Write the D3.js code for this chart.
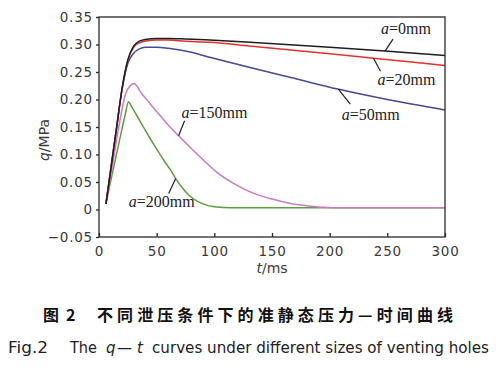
<!DOCTYPE html>
<html><head><meta charset="utf-8">
<script src="https://cdn.jsdelivr.net/npm/d3@7"></script>
<style>body{margin:0;background:#fff}svg{display:block}</style>
</head><body><svg id="c" width="500" height="366"></svg>
<script>
// ---- data ----
const xTicks = [0, 50, 100, 150, 200, 250, 300];
const yTicks = [-0.05, 0, 0.05, 0.10, 0.15, 0.20, 0.25, 0.30, 0.35];
const yTickLabels = ["\u22120.05", "0", "0.05", "0.10", "0.15", "0.20", "0.25", "0.30", "0.35"];
const seriesNames = ["a=0mm", "a=20mm", "a=50mm", "a=150mm", "a=200mm"];

const tBlack = [6,10,15,20,25,30,35,40,50,60,75,96,131,200,248,300];
const qBlack = [0.01,0.07,0.145,0.22,0.272,0.297,0.306,0.309,0.311,0.311,0.310,0.308,0.304,0.295,0.288,0.280];
const tRed = [6,10,15,20,25,30,35,40,50,60,75,96,131,200,238,300];
const qRed = [0.01,0.07,0.145,0.22,0.271,0.295,0.303,0.306,0.308,0.308,0.306,0.304,0.297,0.283,0.275,0.262];
const tBlue = [6,10,15,20,25,30,35,40,50,60,75,96,131,170,207,250,300];
const qBlue = [0.01,0.07,0.145,0.218,0.266,0.284,0.292,0.295,0.295,0.293,0.288,0.277,0.258,0.238,0.219,0.200,0.181];
const tPink = [6,12,18,23,27,30.5,33,36,40,44,50,59,70,80,88,102,117,131,150,166,180,195,210,300];
const qPink = [0.01,0.085,0.16,0.21,0.225,0.229,0.224,0.214,0.203,0.193,0.178,0.156,0.132,0.111,0.095,0.068,0.047,0.032,0.019,0.011,0.007,0.004,0.003,0.003];
const tGreen = [6,12,18,23,25.5,28,33,38.5,44,50,56,62,66,72,78,88,100,115,300];
const qGreen = [0.01,0.07,0.128,0.175,0.196,0.188,0.170,0.150,0.130,0.110,0.090,0.072,0.058,0.040,0.026,0.012,0.005,0.003,0.003];

// ---- layout ----
const svg = d3.select("#c");
const L = 99, R = 445, T = 17, B = 237;
const x = d3.scaleLinear().domain([0, 300]).range([L, R]);
const y = d3.scaleLinear().domain([-0.05, 0.35]).range([B, T]);

const series = [
  {name: seriesNames[4], t: tGreen, q: qGreen, color: "#5f9e3e"},
  {name: seriesNames[3], t: tPink, q: qPink, color: "#c97cc4"},
  {name: seriesNames[2], t: tBlue, q: qBlue, color: "#45499a"},
  {name: seriesNames[1], t: tRed, q: qRed, color: "#e5312c"},
  {name: seriesNames[0], t: tBlack, q: qBlack, color: "#1e1e1e"}
];

const line = d3.line().x(d => x(d[0])).y(d => y(d[1])).curve(d3.curveMonotoneX);
series.forEach(s => {
  svg.append("path")
    .datum(s.t.map((t, i) => [t, s.q[i]]))
    .attr("d", line).attr("fill", "none")
    .attr("stroke", s.color).attr("stroke-width", 1.5);
});

// frame
svg.append("rect").attr("x", L).attr("y", T).attr("width", R - L).attr("height", B - T)
  .attr("fill", "none").attr("stroke", "#2a2a2a").attr("stroke-width", 1.3);

// axes
const tickFont = "DejaVu Sans";
const xAxis = svg.append("g").attr("transform", `translate(0,${B})`)
  .call(d3.axisBottom(x).tickValues(xTicks).tickSize(-4).tickPadding(9).tickFormat(d3.format("d")));
const yAxis = svg.append("g").attr("transform", `translate(${L},0)`)
  .call(d3.axisLeft(y).tickValues(yTicks).tickSize(3).tickPadding(3).tickFormat((d, i) => yTickLabels[i]));
[xAxis, yAxis].forEach(g => {
  g.select(".domain").remove();
  g.selectAll("line").attr("stroke", "#2a2a2a").attr("stroke-width", 1.3);
  g.selectAll("text").attr("font-family", tickFont).attr("font-size", 13.5)
    .attr("fill", "#3a3a3a").style("letter-spacing", "0.8px");
});

// axis titles
const xt = svg.append("text").attr("x", (L + R) / 2).attr("y", 273).attr("text-anchor", "middle")
  .attr("font-family", tickFont).attr("font-size", 14).attr("fill", "#3a3a3a");
xt.append("tspan").attr("font-style", "italic").text("t");
xt.append("tspan").text("/ms");
const yt = svg.append("text").attr("transform", `translate(49,${140}) rotate(-90)`).attr("text-anchor", "middle")
  .attr("font-family", tickFont).attr("font-size", 14).attr("fill", "#3a3a3a");
yt.append("tspan").attr("font-style", "italic").text("q");
yt.append("tspan").text("/MPa");

// annotations: anchor on curve at time t, line offset, label offset (px)
function interp(s, t) {
  for (let i = 1; i < s.t.length; i++) {
    if (t <= s.t[i]) {
      const f = (t - s.t[i - 1]) / (s.t[i] - s.t[i - 1]);
      return s.q[i - 1] + f * (s.q[i] - s.q[i - 1]);
    }
  }
  return s.q[s.q.length - 1];
}
const notes = [
  {s: 4, t: 248, lx: 8, ly: -12, tx: -4, ty: -17},
  {s: 3, t: 238, lx: 7, ly: 13, tx: 4, ty: 27},
  {s: 2, t: 207.5, lx: 12, ly: 15, tx: 3.5, ty: 31},
  {s: 1, t: 69, lx: 6, ly: -15, tx: 3, ty: -18},
  {s: 0, t: 66.5, lx: -7, ly: 15, tx: -47, ty: 29}
];
notes.forEach(n => {
  const s = series[n.s];
  const ax = x(n.t), ay = y(interp(s, n.t));
  svg.append("line").attr("x1", ax).attr("y1", ay).attr("x2", ax + n.lx).attr("y2", ay + n.ly)
    .attr("stroke", "#1e1e1e").attr("stroke-width", 1.2);
  const tx = svg.append("text").attr("x", ax + n.tx).attr("y", ay + n.ty)
    .attr("font-family", "Liberation Serif").attr("font-size", 16).attr("fill", "#222");
  tx.append("tspan").attr("font-style", "italic").text(s.name.slice(0, 1));
  tx.append("tspan").text(s.name.slice(1));
});

// captions
const cn = svg.append("g").attr("font-family", "Noto Sans CJK SC").attr("font-weight", "bold")
  .attr("font-size", 16).attr("fill", "#111");
cn.append("text").attr("x", 43).attr("y", 321).text("图");
cn.append("text").attr("x", 66).attr("y", 321).text("2");
cn.append("text").attr("x", 97).attr("y", 321)
  .attr("textLength", 356).attr("lengthAdjust", "spacing").text("不同泄压条件下的准静态压力—时间曲线");
const capFont = "DejaVu Sans";
const cap = svg.append("g").attr("font-family", capFont).attr("font-size", 15).attr("fill", "#222");
cap.append("text").attr("x", 8).attr("y", 353).attr("textLength", 40).attr("lengthAdjust", "spacingAndGlyphs").text("Fig.2");
cap.append("text").attr("x", 70).attr("y", 353).attr("textLength", 27).attr("lengthAdjust", "spacingAndGlyphs").text("The");
cap.append("text").attr("x", 106).attr("y", 353).attr("font-style", "italic").text("q");
cap.append("text").attr("x", 117).attr("y", 353).text("—");
cap.append("text").attr("x", 137).attr("y", 353).attr("font-style", "italic").text("t");
cap.append("text").attr("x", 152).attr("y", 353).attr("textLength", 337).attr("lengthAdjust", "spacingAndGlyphs")
  .text("curves under different sizes of venting holes");
</script></body></html>
